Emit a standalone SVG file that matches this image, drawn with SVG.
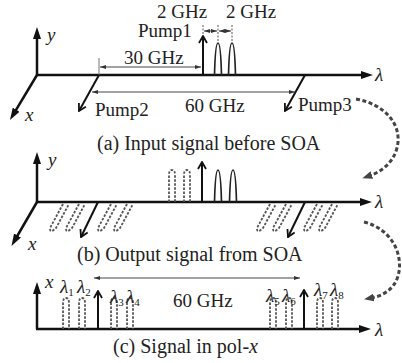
<svg xmlns="http://www.w3.org/2000/svg" width="402" height="363" viewBox="0 0 402 363">
<style>
text{font-family:"Liberation Serif","Times New Roman",serif;fill:#222;font-size:19px}
.cap{font-size:20px}
.it{font-style:italic}
.sub{font-size:11px;font-style:normal}
.axis{stroke:#111;stroke-width:2.5;fill:none}
.pump{stroke:#111;stroke-width:2;fill:none}
.dim{stroke:#444;stroke-width:1;fill:none}
.tick{stroke:#555;stroke-width:1;stroke-dasharray:2,1.5;fill:none}
.hump{stroke:#222;stroke-width:1.7;fill:none}
.idler{stroke:#555;stroke-width:1.8;stroke-dasharray:2.5,1.5;fill:none}
.curve{stroke:#444;stroke-width:3;stroke-dasharray:4,2.5;fill:none}
</style>
<defs>
<marker id="ah" viewBox="0 0 12 8" refX="4" refY="4" markerWidth="12" markerHeight="8" markerUnits="userSpaceOnUse" orient="auto"><path d="M0,0 L12,4 L0,8 z" fill="#111"/></marker>
<marker id="ch" viewBox="0 0 10 10" refX="9" refY="5" markerWidth="10" markerHeight="10" markerUnits="userSpaceOnUse" orient="auto"><path d="M2,1 L9,5 L2,9" fill="none" stroke="#111" stroke-width="1.8"/></marker>
<marker id="dh" viewBox="0 0 6 4" refX="6" refY="2" markerWidth="6" markerHeight="4" markerUnits="userSpaceOnUse" orient="auto-start-reverse"><path d="M0,0 L6,2 L0,4 z" fill="#333"/></marker>
<marker id="ch2" viewBox="0 0 10 8" refX="3" refY="4" markerWidth="10" markerHeight="8" markerUnits="userSpaceOnUse" orient="auto"><path d="M0,0 L10,4 L0,8 z" fill="#444"/></marker>
</defs>

<!-- Panel (a) -->
<g id="panel-a">
  <line class="axis" x1="37" y1="75" x2="37" y2="35" marker-end="url(#ah)"/>
  <line class="axis" x1="36" y1="75" x2="365" y2="75" marker-end="url(#ah)"/>
  <line class="axis" x1="37" y1="75" x2="14.1" y2="113.1" marker-end="url(#ah)"/>
  <text class="it" x="47" y="41">y</text>
  <text class="it" x="25" y="121">x</text>
  <text class="it" x="375" y="81">λ</text>
  <text x="157" y="18">2 GHz</text>
  <text x="226" y="18">2 GHz</text>
  <text x="138" y="37">Pump1</text>
  <text x="124" y="64">30 GHz</text>
  <text x="185" y="112">60 GHz</text>
  <text x="95" y="116">Pump2</text>
  <text x="298" y="111">Pump3</text>
  <text class="cap" x="97" y="150">(a) Input signal before SOA</text>
</g>
<g id="pump1-a">
  <line class="pump" x1="203" y1="75" x2="203" y2="36" marker-end="url(#ch)"/>
</g>
<g id="pumps-a">
  <path class="hump" d="M214.5,75 C215,55 216,43 218,43 C220,43 221,55 221.5,75"/>
  <path class="hump" d="M228.5,75 C229,55 230,43 232,43 C234,43 235,55 235.5,75"/>
</g>
<g id="pump2-a">
  <line class="tick" x1="99" y1="58" x2="99" y2="75" style="stroke-dasharray:none;stroke:#777"/>
  <line class="pump" x1="99" y1="75" x2="79" y2="111" marker-end="url(#ch)"/>
</g>
<g id="pump3-a">
  <line class="pump" x1="305" y1="75" x2="285" y2="111" marker-end="url(#ch)"/>
</g>
<g id="dims-a">
  <line class="tick" x1="203" y1="25" x2="203" y2="36"/>
  <line class="tick" x1="218" y1="25" x2="218" y2="42"/>
  <line class="tick" x1="232" y1="25" x2="232" y2="42"/>
  <line class="dim" x1="204" y1="31" x2="217" y2="31" marker-start="url(#dh)" marker-end="url(#dh)"/>
  <line class="dim" x1="219" y1="31" x2="231" y2="31" marker-start="url(#dh)" marker-end="url(#dh)"/>
  <line class="dim" x1="100" y1="67" x2="201" y2="67" marker-start="url(#dh)" marker-end="url(#dh)"/>
  <line class="dim" x1="92" y1="92" x2="295" y2="92" marker-start="url(#dh)" marker-end="url(#dh)"/>
</g>

<!-- Panel (b) -->
<g id="panel-b">
  <line class="axis" x1="37" y1="202" x2="37" y2="160" marker-end="url(#ah)"/>
  <line class="axis" x1="36" y1="202" x2="364" y2="202" marker-end="url(#ah)"/>
  <line class="axis" x1="37" y1="202" x2="15.5" y2="239" marker-end="url(#ah)"/>
  <text class="it" x="48" y="166">y</text>
  <text class="it" x="28" y="250">x</text>
  <text class="it" x="375" y="208">λ</text>
  <text class="cap" x="77" y="261">(b) Output signal from SOA</text>
</g>
<g id="pumps-b">
  <line class="pump" x1="202" y1="202" x2="202" y2="162" marker-end="url(#ch)"/>
  <path class="hump" d="M214.5,202 C215,182 216,170 218,170 C220,170 221,182 221.5,202"/>
  <path class="hump" d="M229.5,202 C230,182 231,170 233,170 C235,170 236,182 236.5,202"/>
  <line class="pump" x1="98" y1="202" x2="81" y2="237" marker-end="url(#ch)"/>
  <line class="pump" x1="305" y1="202" x2="288" y2="237" marker-end="url(#ch)"/>
</g>
<g id="idlers-b">
  <path class="idler" d="M169,202 L169,175 Q169,170 172,170 Q175,170 175,175 L175,202"/>
  <path class="idler" d="M184,202 L184,175 Q184,170 187,170 Q190,170 190,175 L190,202"/>
  <path class="idler" d="M63,204 L50,228 Q49.8,234.2 56,228 L69,204"/>
  <path class="idler" d="M79,204 L66,228 Q65.8,234.2 72,228 L85,204"/>
  <path class="idler" d="M111,204 L98,228 Q97.8,234.2 104,228 L117,204"/>
  <path class="idler" d="M127,204 L114,228 Q113.8,234.2 120,228 L133,204"/>
  <path class="idler" d="M270,204 L257,228 Q256.8,234.2 263,228 L276,204"/>
  <path class="idler" d="M286,204 L273,228 Q272.8,234.2 279,228 L292,204"/>
  <path class="idler" d="M317,204 L304,228 Q303.8,234.2 310,228 L323,204"/>
  <path class="idler" d="M332,204 L319,228 Q318.8,234.2 325,228 L338,204"/>
</g>

<!-- Panel (c) -->
<g id="panel-c">
  <line class="axis" x1="37" y1="329" x2="37" y2="290" marker-end="url(#ah)"/>
  <line class="axis" x1="36" y1="329" x2="363" y2="329" marker-end="url(#ah)"/>
  <text class="it" x="45" y="288">x</text>
  <text class="it" x="375" y="336">λ</text>
  <text x="173" y="307">60 GHz</text>
  <text class="cap" x="113" y="353">(c) Signal in pol-<tspan class="it">x</tspan></text>
</g>
<g id="pumps-c">
  <line class="pump" x1="98" y1="329" x2="98" y2="291" marker-end="url(#ch)"/>
  <line class="pump" x1="304" y1="329" x2="304" y2="290" marker-end="url(#ch)"/>
  <line class="dim" x1="94" y1="278" x2="300" y2="278" marker-start="url(#dh)" marker-end="url(#dh)"/>
</g>
<g id="idlers-c">
  <path class="idler" d="M63,329 L63,303 Q63,298 66,298 Q69,298 69,303 L69,329"/>
  <path class="idler" d="M79,329 L79,303 Q79,298 82,298 Q85,298 85,303 L85,329"/>
  <path class="idler" d="M111,329 L111,303 Q111,298 114,298 Q117,298 117,303 L117,329"/>
  <path class="idler" d="M127,329 L127,303 Q127,298 130,298 Q133,298 133,303 L133,329"/>
  <path class="idler" d="M270,329 L270,303 Q270,298 273,298 Q276,298 276,303 L276,329"/>
  <path class="idler" d="M286,329 L286,303 Q286,298 289,298 Q292,298 292,303 L292,329"/>
  <path class="idler" d="M317,329 L317,303 Q317,298 320,298 Q323,298 323,303 L323,329"/>
  <path class="idler" d="M332,329 L332,303 Q332,298 335,298 Q338,298 338,303 L338,329"/>
</g>
<g id="labels-c">
  <text class="it" x="60" y="293">λ<tspan class="sub" dy="3">1</tspan></text>
  <text class="it" x="77" y="293">λ<tspan class="sub" dy="3">2</tspan></text>
  <text class="it" x="110" y="303">λ<tspan class="sub" dy="3">3</tspan></text>
  <text class="it" x="126" y="303">λ<tspan class="sub" dy="3">4</tspan></text>
  <text class="it" x="266" y="302">λ<tspan class="sub" dy="3">5</tspan></text>
  <text class="it" x="282" y="302">λ<tspan class="sub" dy="3">6</tspan></text>
  <text class="it" x="314" y="296">λ<tspan class="sub" dy="3">7</tspan></text>
  <text class="it" x="330" y="296">λ<tspan class="sub" dy="3">8</tspan></text>
</g>

<!-- connectors between panels -->
<g id="connectors">
  <path class="curve" d="M356,99 C384,104 403,124 397,148 C393,163 381,172 369,176" marker-end="url(#ch2)"/>
  <path class="curve" d="M364,222 C392,229 404,255 398,276 C394,290 382,296 371,298" marker-end="url(#ch2)"/>
</g>
</svg>
